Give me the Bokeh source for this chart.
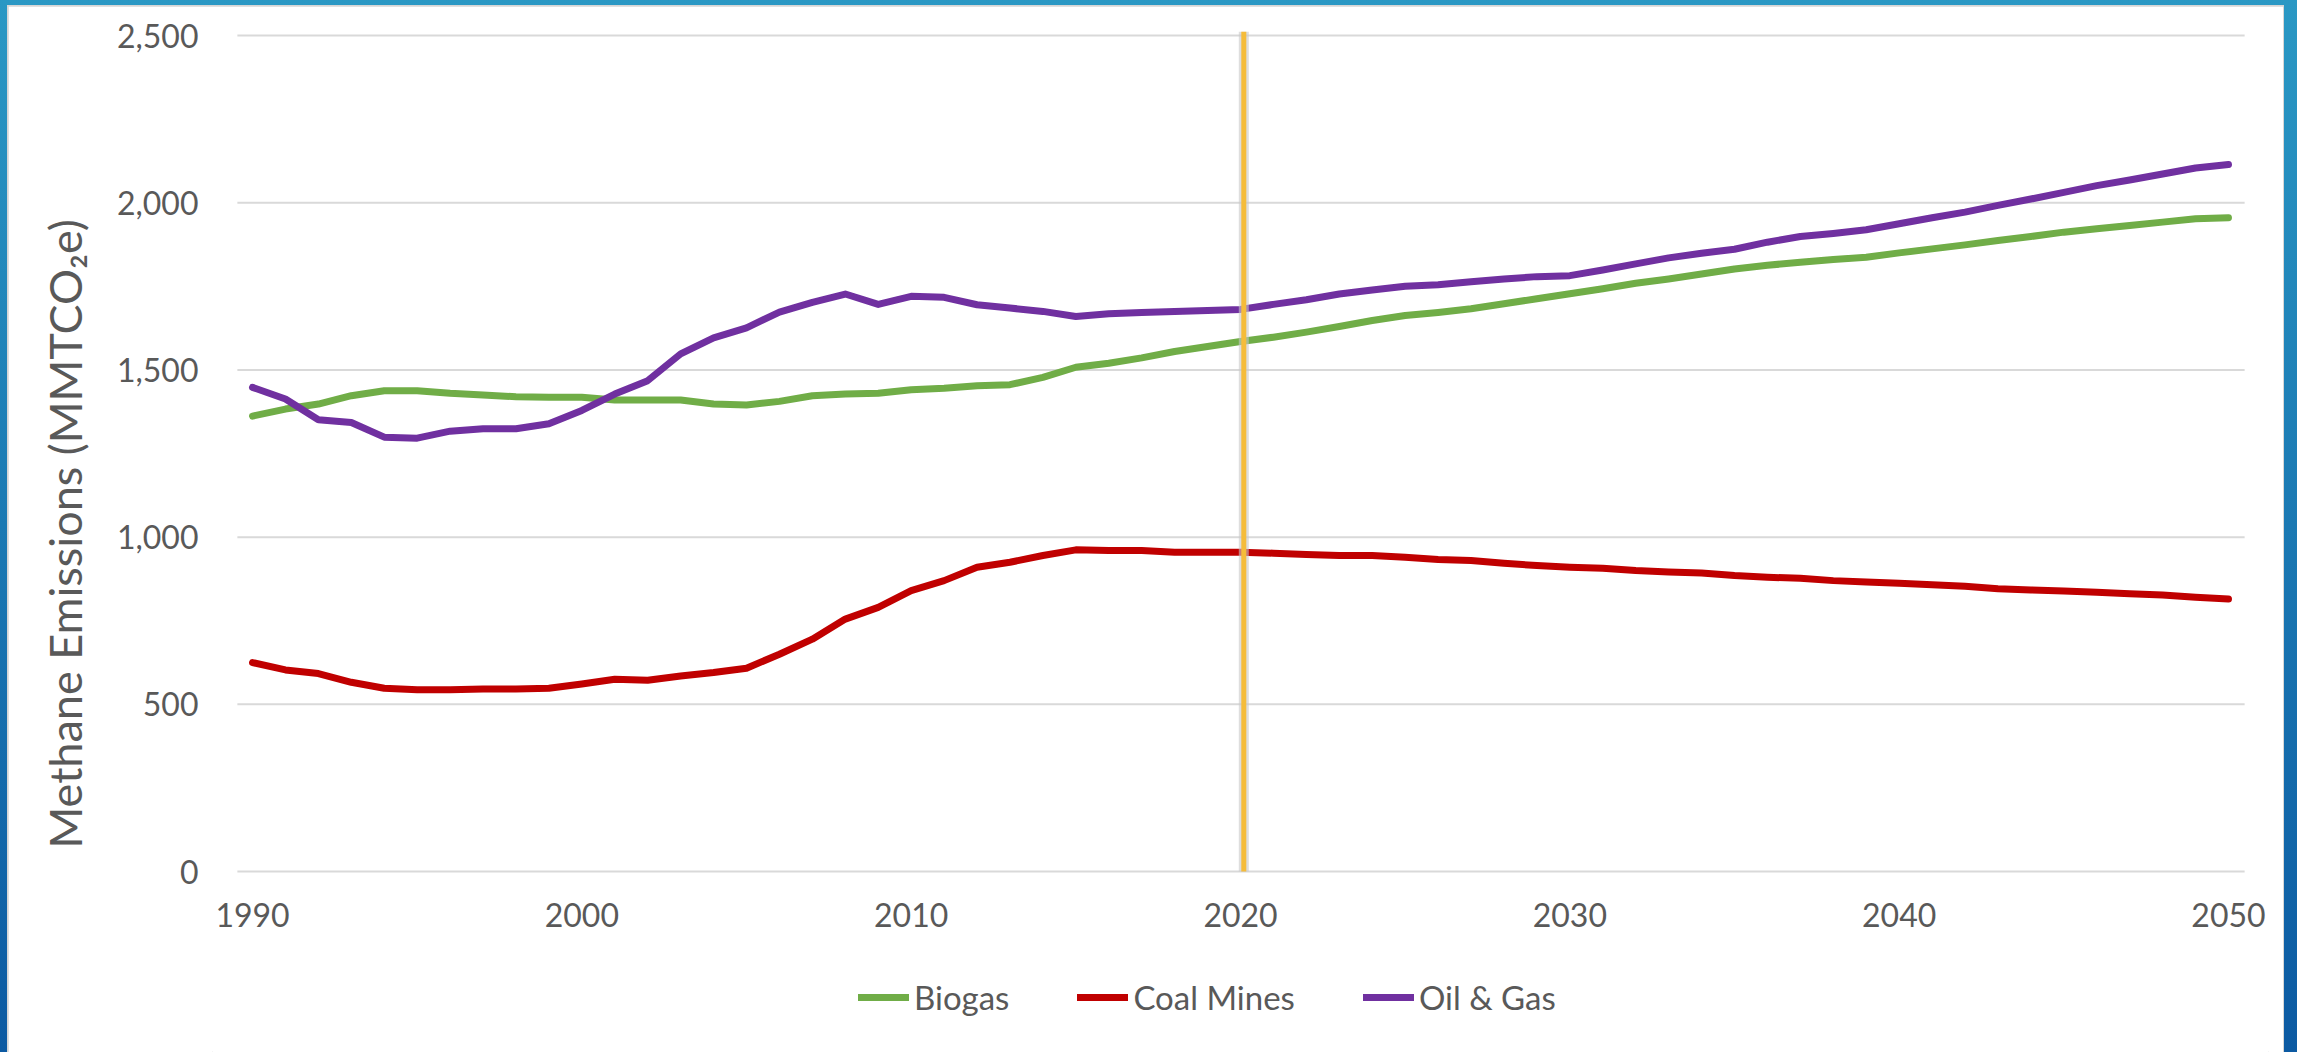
from bokeh.plotting import figure
from bokeh.models import (Range1d, Legend, LegendItem, NumeralTickFormatter,
                          FixedTicker, Title, ColumnDataSource)
from bokeh.embed import file_html
from bokeh.resources import INLINE

years = list(range(1990, 2051))

biogas = [1362, 1383, 1398, 1423, 1438, 1438, 1430, 1425, 1420, 1418,
          1418, 1410, 1410, 1410, 1398, 1395, 1406, 1423, 1428, 1430,
          1441, 1445, 1453, 1456, 1478, 1508, 1520, 1536, 1555, 1570,
          1585, 1598, 1613, 1630, 1648, 1663, 1672, 1683, 1698, 1713,
          1728, 1743, 1759, 1772, 1787, 1802, 1813, 1822, 1830, 1837,
          1850, 1862, 1874, 1887, 1899, 1912, 1922, 1932, 1942, 1952,
          1955]

coal_mines = [625, 603, 592, 566, 548, 544, 544, 546, 546, 548,
              561, 575, 572, 585, 595, 608, 650, 695, 755, 790,
              840, 870, 910, 925, 945, 962, 960, 960, 955, 955,
              955, 952, 948, 945, 945, 940, 933, 930, 922, 915,
              910, 907, 900, 896, 893, 885, 880, 877, 870, 866,
              862, 858, 853, 846, 842, 839, 835, 831, 827, 820,
              815]

oil_gas = [1448, 1413, 1351, 1343, 1299, 1296, 1317, 1324, 1324, 1339,
           1379, 1428, 1468, 1548, 1596, 1626, 1673, 1702, 1727, 1696,
           1720, 1717, 1695, 1685, 1675, 1660, 1668, 1672, 1675, 1678,
           1681, 1696, 1710, 1727, 1739, 1750, 1755, 1764, 1772, 1779,
           1782, 1799, 1817, 1835, 1849, 1861, 1882, 1899, 1908, 1919,
           1937, 1955, 1972, 1992, 2011, 2031, 2051, 2068, 2086, 2104,
           2114]

series_names = ["Biogas", "Coal Mines", "Oil & Gas"]
series_colors = ["#70AD47", "#C00000", "#7030A0"]
x_ticks = [1990, 2000, 2010, 2020, 2030, 2040, 2050]
y_ticks = [0, 500, 1000, 1500, 2000, 2500]
marker_year = 2020.1
y_title = "Methane Emissions (MMTCO\u2082e)"

FONT = "Lato"
TXT = "#595959"
Y_TOP = 2512            # top of the plotting area (a little above 2,500)
Y_FLOOR = -541          # room under zero for the year labels and the legend
X_START, X_END = 1988.785, 2051.215   # room at the sides for the end year labels
GRID_X0, GRID_X1 = 1989.54, 2050.49   # horizontal extent of the gridlines

p = figure(width=2275, height=1046, output_backend="svg", toolbar_location=None,
           x_range=Range1d(X_START, X_END), y_range=Range1d(Y_FLOOR, Y_TOP),
           min_border_left=204, min_border_right=15, min_border_top=25,
           min_border_bottom=0)
p.styles = {"background-color": "white", "outline": "2px solid #d6d6d6",
            "outline-offset": "-1px"}
p.outline_line_color = None
p.background_fill_color = "white"
p.border_fill_color = "white"

p.xgrid.grid_line_color = None
p.ygrid.grid_line_color = None

# horizontal gridlines at the y ticks
p.segment(x0=[GRID_X0] * len(y_ticks), y0=y_ticks, x1=[GRID_X1] * len(y_ticks),
          y1=y_ticks, line_color="#D9D9D9", line_width=2, level="underlay")

p.xaxis.ticker = FixedTicker(ticks=x_ticks)
p.yaxis.ticker = FixedTicker(ticks=y_ticks)
p.yaxis.formatter = NumeralTickFormatter(format="0,0")
p.xaxis.fixed_location = 0
for ax in (p.xaxis, p.yaxis):
    ax.axis_line_color = None
    ax.major_tick_line_color = None
    ax.minor_tick_line_color = None
    ax.major_tick_out = 0
    ax.major_tick_in = 0
    ax.major_label_text_font = FONT
    ax.major_label_text_font_size = "32px"
    ax.major_label_text_color = TXT
p.xaxis.major_label_standoff = 31
p.yaxis.major_label_standoff = 14

ytitle = Title(text=y_title, align="left", offset=204, standoff=44,
               text_font=FONT, text_font_size="45px", text_font_style="normal",
               text_color=TXT)
p.add_layout(ytitle, "left")

src = ColumnDataSource(dict(year=years, bio=biogas, coal=coal_mines, oil=oil_gas))
renderers = []
for col, name, color in zip(["bio", "coal", "oil"], series_names, series_colors):
    r = p.line("year", col, source=src, line_color=color, line_width=7,
               line_cap="round", line_join="round")
    renderers.append(r)

# 2020 marker line with a soft grey shadow
p.segment(x0=[marker_year], y0=[y_ticks[0]], x1=[marker_year], y1=[Y_TOP],
          line_color="#C8C8C8", line_alpha=0.6, line_width=10)
p.segment(x0=[marker_year], y0=[y_ticks[0]], x1=[marker_year], y1=[Y_TOP],
          line_color="#F5BC3A", line_width=5)

legend = Legend(items=[LegendItem(label=n, renderers=[r]) for n, r in zip(series_names, renderers)],
                orientation="horizontal", location=(646, 35),
                glyph_width=51, glyph_height=40, label_height=40, label_standoff=5,
                spacing=68, padding=0, margin=0, border_line_color=None,
                background_fill_alpha=0, label_text_font=FONT,
                label_text_font_size="33px", label_text_color=TXT)
p.add_layout(legend)

style = ("<style>html, body {background: linear-gradient(to bottom, #2a98c4, #0c5aa2) !important;}"
         " body {padding: 6px 0 0 8px !important; box-sizing: border-box !important;}</style>")
html = file_html(p, INLINE)
html = html.replace("</head>", style + "</head>", 1)
open("out.html", "w").write(html)
